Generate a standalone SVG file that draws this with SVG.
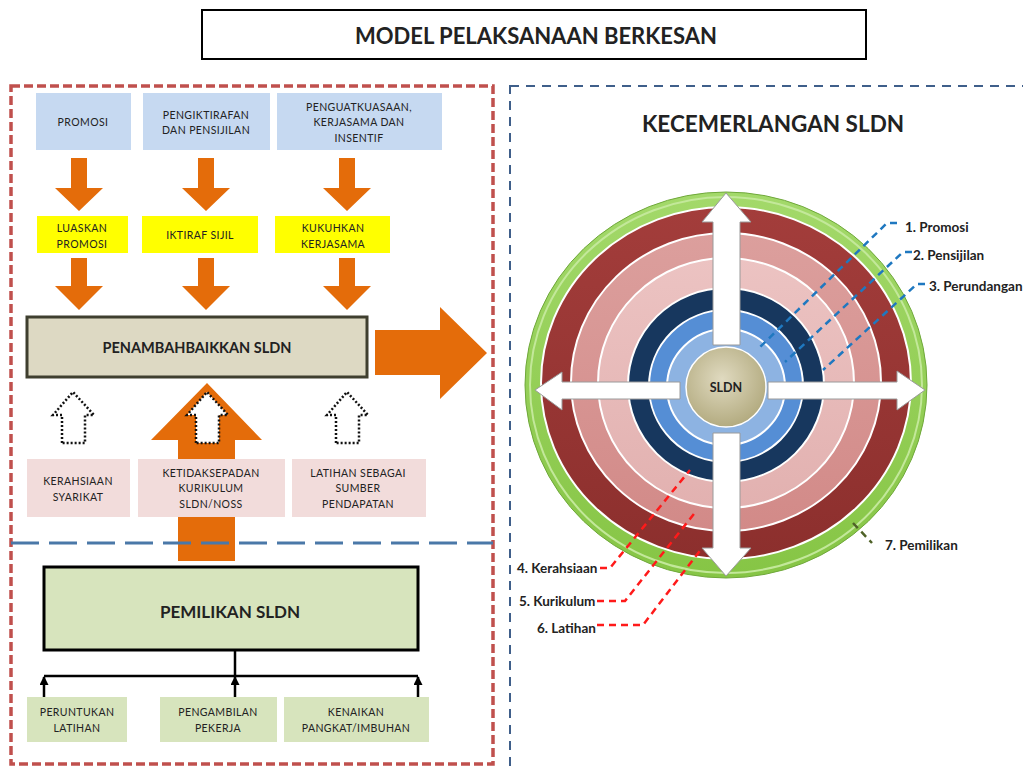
<svg xmlns="http://www.w3.org/2000/svg" width="1023" height="767" viewBox="0 0 1023 767">
<style>
.t{font-family:Lato,"Liberation Sans",sans-serif;fill:#222;text-anchor:middle;dominant-baseline:central}
.s{font-size:10.5px;letter-spacing:0.4px}
.b{font-weight:bold}
.lab{font-family:Lato,"Liberation Sans",sans-serif;font-weight:bold;font-size:13.5px;fill:#222;dominant-baseline:central}
.blue{fill:#c6d9f1}
.yel{fill:#ffff00}
.pink{fill:#f2dcdb}
.grn{fill:#d7e4bd}
.or{fill:#e46c0a}
.dot{fill:#fff;stroke:#111;stroke-width:2.5;stroke-dasharray:2 2}
.wa{fill:#fff;stroke:#9a9a9a;stroke-width:1}
.ring{stroke:#fff;stroke-width:2}
.ldb{stroke:#1f78c0;stroke-width:2.5;stroke-dasharray:7 5;fill:none}
.ldr{stroke:#ff1a1a;stroke-width:2.5;stroke-dasharray:7 5;fill:none}
</style>
<defs>
<marker id="ah" markerWidth="9" markerHeight="9" refX="8" refY="4.5" orient="auto" markerUnits="userSpaceOnUse" viewBox="0 0 9 9">
<path d="M0,0 L9,4.5 L0,9 Z" fill="#000"/>
</marker>
<radialGradient id="gtan" cx="0.45" cy="0.4" r="0.6">
<stop offset="0" stop-color="#e0dac0"/><stop offset="1" stop-color="#b3ab80"/>
</radialGradient>
<linearGradient id="gred" x1="0" y1="0" x2="0" y2="1"><stop offset="0" stop-color="#a33d3b"/><stop offset="1" stop-color="#8c2f2d"/></linearGradient>
<linearGradient id="gpk1" x1="0" y1="0" x2="0" y2="1"><stop offset="0" stop-color="#dc9f9d"/><stop offset="1" stop-color="#d28a88"/></linearGradient>
<linearGradient id="gpk2" x1="0" y1="0" x2="0" y2="1"><stop offset="0" stop-color="#ecc3c2"/><stop offset="1" stop-color="#e2b1b0"/></linearGradient>
<linearGradient id="ggr" x1="0" y1="0" x2="0" y2="1"><stop offset="0" stop-color="#a3d96a"/><stop offset="1" stop-color="#86c545"/></linearGradient>
</defs>
<rect width="1023" height="767" fill="#fff"/>

<g id="title">
<rect x="202" y="10" width="664" height="49" fill="#fff" stroke="#000" stroke-width="2"/>
<text class="t b" x="536" y="35" font-size="22">MODEL PELAKSANAAN BERKESAN</text>
</g>

<g id="frames">
<rect x="11" y="86" width="482" height="678" fill="none" stroke="#c0504d" stroke-width="3.5" stroke-dasharray="9 4"/>
<rect x="510" y="86" width="600" height="700" fill="none" stroke="#3f5f8a" stroke-width="2" stroke-dasharray="9 7"/>
</g>

<g id="connectors">
<path class="or" d="M71,158 H87 V188 H103 L79,211 L55,188 H71 Z"/>
<path class="or" d="M198,158 H214 V188 H230 L206,211 L182,188 H198 Z"/>
<path class="or" d="M339,158 H355 V188 H371 L347,211 L323,188 H339 Z"/>
<path class="or" d="M71,258 H87 V286 H103 L79,310 L55,286 H71 Z"/>
<path class="or" d="M198,258 H214 V286 H230 L206,310 L182,286 H198 Z"/>
<path class="or" d="M339,258 H355 V286 H371 L347,310 L323,286 H339 Z"/>
<path class="or" d="M375,330 H440 V307 L487,353 L440,399 V375 H375 Z"/>
<path class="or" d="M178,561 V440 H151 L207,383 L262,440 H235 V561 Z"/>
<path class="dot" d="M62,443 V415 H53 L73,392 L94,415 H85 V443 Z"/>
<path class="dot" d="M196,443 V415 H187 L207,392 L228,415 H219 V443 Z"/>
<path class="dot" d="M336,443 V415 H327 L347,392 L368,415 H359 V443 Z"/>
<line x1="11" y1="543" x2="493" y2="543" stroke="#4a78a8" stroke-width="3" stroke-dasharray="28 10"/>
<g stroke="#000" stroke-width="2.5" fill="none">
<line x1="235" y1="650" x2="235" y2="676"/>
<line x1="44" y1="676" x2="418" y2="676"/>
<line x1="44" y1="698" x2="44" y2="677" marker-end="url(#ah)"/>
<line x1="235" y1="698" x2="235" y2="677" marker-end="url(#ah)"/>
<line x1="418" y1="698" x2="418" y2="677" marker-end="url(#ah)"/>
</g>
</g>

<g id="n-promosi"><rect class="blue" x="36" y="93" width="95" height="57"/><text class="t s" x="83" y="122">PROMOSI</text></g>
<g id="n-pengiktirafan"><rect class="blue" x="143" y="93" width="127" height="57"/><text class="t s" x="206" y="115">PENGIKTIRAFAN</text><text class="t s" x="206" y="130">DAN PENSIJILAN</text></g>
<g id="n-penguatkuasaan"><rect class="blue" x="277" y="93" width="165" height="57"/><text class="t s" x="359" y="107">PENGUATKUASAAN,</text><text class="t s" x="359" y="122">KERJASAMA DAN</text><text class="t s" x="359" y="138">INSENTIF</text></g>

<g id="n-luaskan"><rect class="yel" x="37" y="216" width="91" height="37"/><text class="t s" x="82" y="228">LUASKAN</text><text class="t s" x="82" y="244">PROMOSI</text></g>
<g id="n-iktiraf"><rect class="yel" x="142" y="216" width="116" height="37"/><text class="t s" x="200" y="235">IKTIRAF SIJIL</text></g>
<g id="n-kukuhkan"><rect class="yel" x="275" y="216" width="115" height="37"/><text class="t s" x="333" y="228">KUKUHKAN</text><text class="t s" x="333" y="244">KERJASAMA</text></g>

<g id="n-penambahbaikkan"><rect x="27" y="317" width="340" height="60" fill="#ddd9c3" stroke="#3f3f2f" stroke-width="3"/><text class="t b" x="197" y="347" font-size="14.5">PENAMBAHBAIKKAN SLDN</text></g>

<g id="n-kerahsiaan"><rect class="pink" x="27" y="459" width="103" height="58"/><text class="t s" x="78" y="481">KERAHSIAAN</text><text class="t s" x="78" y="497">SYARIKAT</text></g>
<g id="n-ketidaksepadan"><rect class="pink" x="138" y="459" width="147" height="58"/><text class="t s" x="211" y="473">KETIDAKSEPADAN</text><text class="t s" x="211" y="488">KURIKULUM</text><text class="t s" x="211" y="504">SLDN/NOSS</text></g>
<g id="n-latihan"><rect class="pink" x="292" y="459" width="134" height="58"/><text class="t s" x="358" y="473">LATIHAN SEBAGAI</text><text class="t s" x="358" y="488">SUMBER</text><text class="t s" x="358" y="504">PENDAPATAN</text></g>

<g id="n-pemilikan"><rect x="44" y="567" width="374" height="83" fill="#d7e4bd" stroke="#000" stroke-width="3"/><text class="t b" x="230" y="611" font-size="17">PEMILIKAN SLDN</text></g>

<g id="n-peruntukan"><rect class="grn" x="27" y="697" width="100" height="45"/><text class="t s" x="77" y="712">PERUNTUKAN</text><text class="t s" x="77" y="728">LATIHAN</text></g>
<g id="n-pengambilan"><rect class="grn" x="160" y="697" width="117" height="45"/><text class="t s" x="218" y="712">PENGAMBILAN</text><text class="t s" x="218" y="728">PEKERJA</text></g>
<g id="n-kenaikan"><rect class="grn" x="284" y="697" width="145" height="45"/><text class="t s" x="356" y="712">KENAIKAN</text><text class="t s" x="356" y="728">PANGKAT/IMBUHAN</text></g>

<g id="n-kecemerlangan">
<text class="t b" x="773" y="123" font-size="22.5">KECEMERLANGAN SLDN</text>
<ellipse cx="726" cy="385" rx="201" ry="193" fill="url(#ggr)" stroke="#6fa83a" stroke-width="1"/>
<ellipse cx="726" cy="385" rx="196" ry="188" fill="none" stroke="#c3e89a" stroke-width="2"/>
<ellipse class="ring" cx="726" cy="383" rx="185" ry="176" fill="url(#gred)"/>
<ellipse class="ring" cx="726" cy="382" rx="155" ry="149" fill="url(#gpk1)"/>
<ellipse class="ring" cx="726" cy="383" rx="128" ry="125" fill="url(#gpk2)"/>
<ellipse class="ring" cx="726" cy="385" rx="98" ry="97" fill="#17375e"/>
<ellipse class="ring" cx="726" cy="386" rx="77" ry="76" fill="#558ed5"/>
<ellipse class="ring" cx="726" cy="387" rx="59" ry="58" fill="#8db3e2"/>
<circle cx="726" cy="387" r="40" fill="url(#gtan)" stroke="#fff" stroke-width="1.5"/>
<path class="wa" d="M713,345 V222 H702 L726,193 L751,222 H740 V345 Z"/>
<path class="wa" d="M713,433 V548 H702 L726,576 L751,548 H740 V433 Z"/>
<path class="wa" d="M680,382 H562 V372 L535,390 L562,410 V399 H680 Z"/>
<path class="wa" d="M768,382 H897 V371 L925,390 L897,410 V399 H768 Z"/>
<text class="t b" x="726" y="387" font-size="12.5">SLDN</text>
</g>

<g id="leaders">
<path class="ldb" d="M897,223 H887 L757,350"/>
<path class="ldb" d="M912,252 H903 L785,362"/>
<path class="ldb" d="M925,284 H917 L823,370"/>
<path class="ldr" d="M600,568 H610 L690,470"/>
<path class="ldr" d="M597,601 H625 L697,510"/>
<path class="ldr" d="M597,625 H643 L702,548"/>
<path d="M853,523 L872,543" stroke="#4f6228" stroke-width="2.5" stroke-dasharray="7 5" fill="none"/>
</g>

<g id="labels">
<text class="lab" x="905" y="227">1. Promosi</text>
<text class="lab" x="913" y="255">2. Pensijilan</text>
<text class="lab" x="929" y="286">3. Perundangan</text>
<text class="lab" x="517" y="568">4. Kerahsiaan</text>
<text class="lab" x="519" y="601">5. Kurikulum</text>
<text class="lab" x="537" y="628">6. Latihan</text>
<text class="lab" x="885" y="545">7. Pemilikan</text>
</g>
</svg>
